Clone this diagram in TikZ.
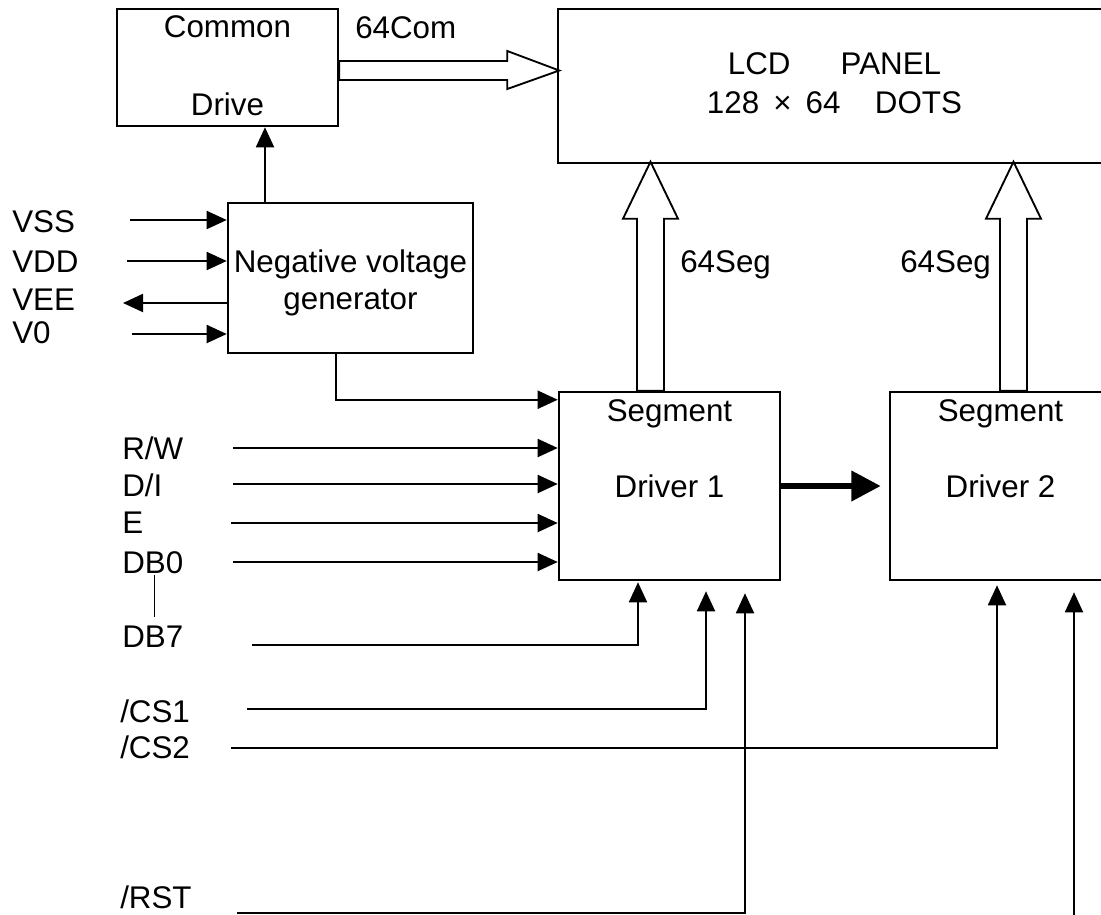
\documentclass[tikz,border=0pt]{standalone}
\usepackage{fontspec}
\setmainfont{Liberation Sans}
\usetikzlibrary{arrows.meta,calc,positioning}

\begin{document}
\begin{tikzpicture}[x=0.75pt, y=-0.75pt,
        font=\fontsize{23.5pt}{27pt}\selectfont,
        box/.style={draw, line width=1.9pt, inner sep=0pt},
        txt/.style={inner sep=0pt, text depth=0pt},
        sig/.style={line width=1.4pt, -{Triangle[length=15pt,width=13.5pt]}},
        hollow/.style={draw, line width=1.4pt, fill=white, line join=miter}]

    \useasboundingbox (0,0) rectangle (1101,915);
    \clip (0,0) rectangle (1101,915);

    % blocks
    \node[box, minimum width=165.75pt, minimum height=87.75pt] (com) at (227.5,67.5) {};
    \node[box, minimum width=414.75pt, minimum height=115.5pt] (lcd) at (834.5,86) {};
    \node[box, minimum width=183.75pt, minimum height=112.5pt] (neg) at (350.5,278) {};
    \node[box, minimum width=165.75pt, minimum height=141pt] (seg1) at (669.5,486) {};
    \node[box, minimum width=165.75pt, minimum height=141pt] (seg2) at (1000.5,486) {};

    \node[txt, below=6pt of com.north] (comtxt) {Common};
    \node[txt, above=9pt of com.south] (drvtxt) {Drive};
    \node[txt, below=33.75pt of lcd.north] (lcdtxt) {LCD\hspace{1.6em}PANEL};
    \node[txt, below=12pt of lcdtxt] (dotstxt) {128\hspace{0.45em}×\hspace{0.45em}64\hspace{1.1em}DOTS};
    \node[txt, below=36pt of neg.north] (negtxt) {Negative voltage};
    \node[txt, below=12pt of negtxt] (gentxt) {generator};
    \node[txt, below=6.75pt of seg1.north] (segatxt) {Segment};
    \node[txt] (drvatxt) at (seg1.center) {Driver 1};
    \node[txt, below=6.75pt of seg2.north] (segbtxt) {Segment};
    \node[txt] (drvbtxt) at (seg2.center) {Driver 2};

    % bus labels
    \node[txt, anchor=west] (comlbl) at (355,28) {64Com};
    \node[txt, anchor=west] (segalbl) at (680,262) {64Seg};
    \node[txt, anchor=west] (segblbl) at (900,262) {64Seg};

    % pin names
    \node[txt, anchor=west] (vss) at (12,222) {VSS};
    \node[txt, anchor=west] (vdd) at (12,262) {VDD};
    \node[txt, anchor=west] (vee) at (12,300) {VEE};
    \node[txt, anchor=west] (vzero) at (12,333) {V0};
    \node[txt, anchor=west] (rw) at (122,448) {R/W};
    \node[txt, anchor=west] (di) at (122,485) {D/I};
    \node[txt, anchor=west] (en) at (122,523) {E};
    \node[txt, anchor=west] (db0) at (122,563) {DB0};
    \node[txt, anchor=west] (db7) at (122,637) {DB7};
    \node[txt, anchor=west] (csa) at (120,711) {/CS1};
    \node[txt, anchor=west] (csb) at (120,747) {/CS2};
    \node[txt, anchor=west] (rst) at (120,897) {/RST};
    \draw[line width=1pt] ($(db0.south)+(1.5,1)$) -- ($(db7.north)+(1.5,-9)$);

    % free ends of the signal lines
    \coordinate (vssin) at (130,220);
    \coordinate (vddin) at (127,261);
    \coordinate (veeout) at (123,303);
    \coordinate (vzin) at (132,334);
    \coordinate (rwin) at (233,448);
    \coordinate (diin) at (233,484);
    \coordinate (enin) at (231,523);
    \coordinate (db0in) at (233,562);
    \coordinate (db7in) at (252,645);
    \coordinate (csain) at (247,709);
    \coordinate (csbin) at (231,748);
    \coordinate (rstin) at (237,913);
    \coordinate (rstbot) at (1074,930);

    % hollow buses
    \draw[hollow] ($(com.east)+(0,-6.5)$) -- ++(168,0) -- ++(0,-10) -- ++(52,19.5)
        -- ++(-52,18.5) -- ++(0,-9) -- ++(-168,0) -- cycle;
    \draw[hollow] ($(seg1.north)+(-32.5,0)$) -- ++(0,-172) -- ++(-14,0) -- ++(27.5,-57)
        -- ++(27.5,57) -- ++(-14,0) -- ++(0,172) -- cycle;
    \draw[hollow] ($(seg2.north)+(-0.5,0)$) -- ++(0,-172) -- ++(-14,0) -- ++(27.5,-57)
        -- ++(27.5,57) -- ++(-14,0) -- ++(0,172) -- cycle;

    % connectors
    \draw[sig] ($(neg.north)+(-85.5,0)$) -- ($(com.south)+(37.5,0)$);
    \draw[sig] (vssin) -- (vssin -| neg.west);
    \draw[sig] (vddin) -- (vddin -| neg.west);
    \draw[sig] (veeout -| neg.west) -- (veeout);
    \draw[sig] (vzin) -- (vzin -| neg.west);
    \draw[sig] ($(neg.south)+(-14.5,0)$) |- ($(seg1.north west)+(0,9)$);
    \draw[sig] (rwin) -- (rwin -| seg1.west);
    \draw[sig] (diin) -- (diin -| seg1.west);
    \draw[sig] (enin) -- (enin -| seg1.west);
    \draw[sig] (db0in) -- (db0in -| seg1.west);
    \draw[sig] (db7in) -| ($(seg1.south)+(-31.5,1)$);
    \draw[sig] (csain) -| ($(seg1.south)+(36.5,10)$);
    \draw[sig] (rstin) -| ($(seg1.south)+(75.5,12)$);
    \draw[sig] (csbin) -| ($(seg2.south)+(-3.5,4)$);
    \draw[sig] (rstbot) -- ($(seg2.south)+(73.5,11)$);
    \draw[line width=4.5pt, -{Triangle[length=22pt,width=22pt]}, shorten >=6pt] (seg1.east) -- (seg2.west);
\end{tikzpicture}
\end{document}
